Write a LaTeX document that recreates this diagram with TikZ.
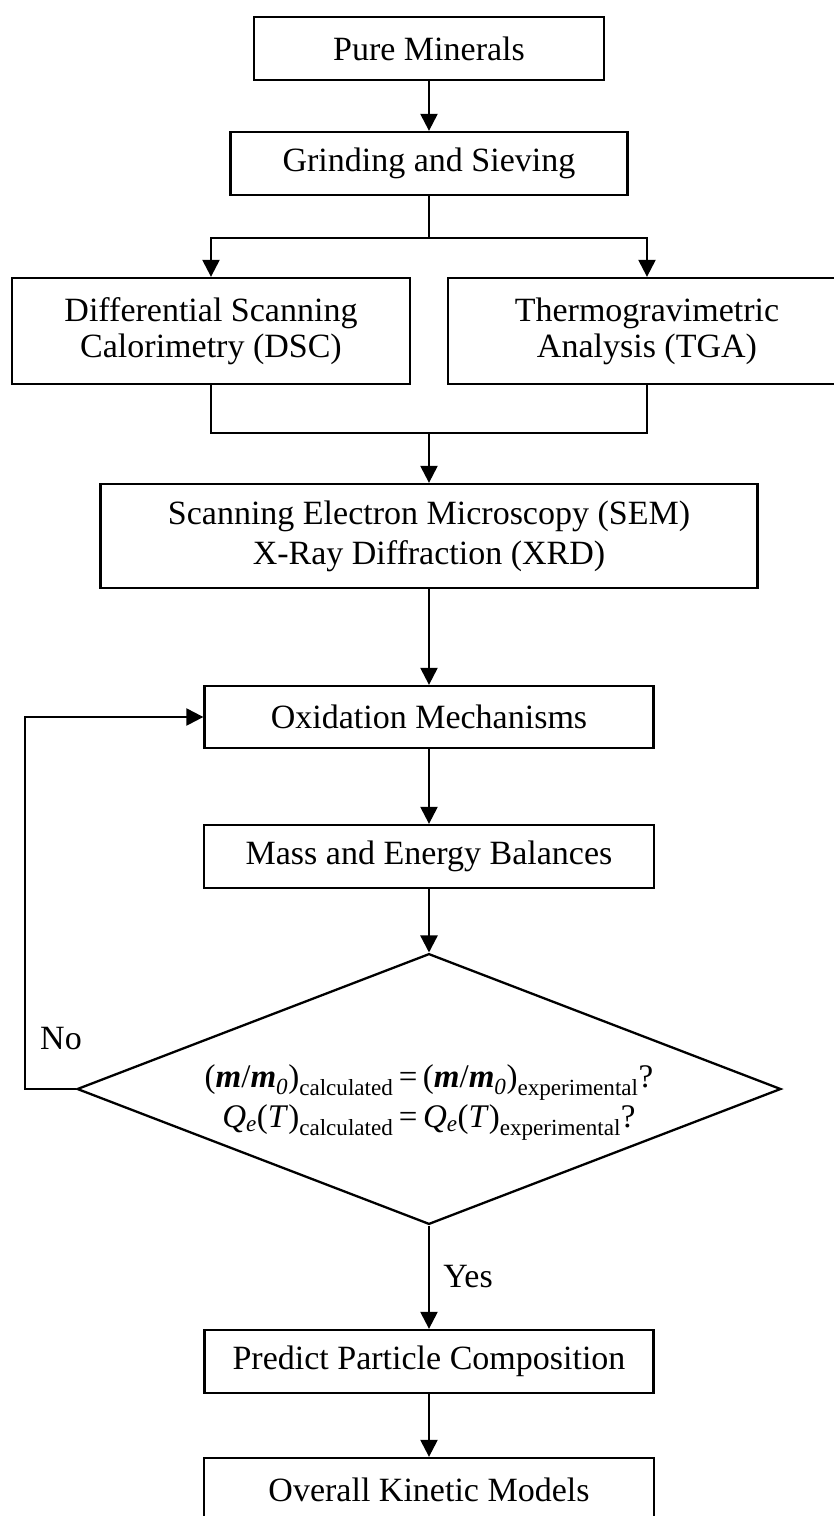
\documentclass[tikz,border=0pt]{standalone}
\usepackage{fontspec}
\setmainfont{Liberation Serif}
\usetikzlibrary{arrows.meta,shapes.geometric}

\tikzset{
  block/.style={draw, line width=2.3pt, inner sep=0pt, align=center,
    font=\fontsize{34}{36}\selectfont},
  arr/.style={line width=2.3pt, -{Triangle[length=17pt,width=17pt]}},
  link/.style={line width=2.3pt},
}

% mass ratio term m/m_0
\newcommand{\massratio}{(\textbf{\textit{m}}/\textbf{\textit{m}}\textsubscript{\textit{0}})}

\begin{document}
\begin{tikzpicture}[x=1pt,y=-1pt]
    \useasboundingbox (0,0) rectangle (833,1516);
    % sample preparation
    \node[block, minimum width=350, minimum height=63] (pure) at (429,48.5) {Pure Minerals};
    \node[block, minimum width=397, minimum height=63] (grind) at (429,163.5) {Grinding and Sieving};
    % thermal analysis
    \node[block, minimum width=398, minimum height=106] (dsc) at (211,331) {Differential Scanning\\Calorimetry (DSC)};
    \node[block, minimum width=398, minimum height=106] (tga) at (647,331) {Thermogravimetric\\Analysis (TGA)};
    \node[block, minimum width=657, minimum height=104, font=\fontsize{34}{40}\selectfont] (sem) at (429,536)
        {Scanning Electron Microscopy (SEM)\\X-Ray Diffraction (XRD)};
    % modelling loop
    \node[block, minimum width=449, minimum height=62] (oxi) at (429,717) {Oxidation Mechanisms};
    \node[block, minimum width=450, minimum height=63] (mass) at (429,856.5) {Mass and Energy Balances};
    \node[block, diamond, aspect=2.6, inner sep=-1.5pt, font=\fontsize{33}{40}\selectfont] (check) at (429,1089)
        {\rule{0pt}{50pt}\massratio\textsubscript{calculated}\,=\,\massratio\textsubscript{experimental}?\\
         \textit{Q\textsubscript{e}}(\textit{T})\textsubscript{calculated}\,=\,\textit{Q\textsubscript{e}}(\textit{T})\textsubscript{experimental}?};
    \node[block, minimum width=449, minimum height=63] (predict) at (429,1361.5) {Predict Particle Composition};
    \node[block, minimum width=450, minimum height=63] (overall) at (429,1489.5) {Overall Kinetic Models};
    \node[font=\fontsize{34}{36}\selectfont] (no) at (61,1039) {No};
    \node[font=\fontsize{34}{36}\selectfont] (yes) at (468,1277) {Yes};

    \coordinate (fork) at (429,238);
    \coordinate (merge) at (429,433);
    \coordinate (loop) at (25,1089);

    \draw[arr] (pure) -- (grind);
    \draw[link] (grind) -- (fork);
    \draw[arr] (fork) -| (dsc);
    \draw[arr] (fork) -| (tga);
    \draw[link] (dsc) |- (merge) -| (tga);
    \draw[arr] (merge) -- (sem);
    \draw[arr] (sem) -- (oxi);
    \draw[arr] (oxi) -- (mass);
    \draw[arr] (mass) -- (check);
    \draw[arr] (check.west) -- (loop) |- (oxi);
    \draw[arr] (check) -- (predict);
    \draw[arr] (predict) -- (overall);
\end{tikzpicture}
\end{document}
